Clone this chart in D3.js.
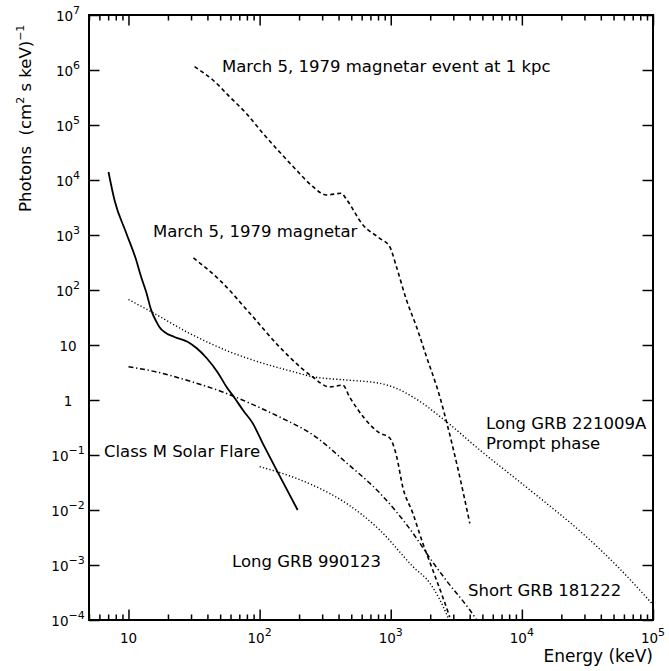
<!DOCTYPE html>
<html>
<head>
<meta charset="utf-8">
<script src="https://cdn.jsdelivr.net/npm/d3@7"></script>
<style>
  body { margin: 0; background: #fff; }
  text { font-family: "DejaVu Sans", sans-serif; fill: #000; }
</style>
</head>
<body>
<svg id="chart" width="669" height="671"></svg>
<script>
// spectra: [energy keV, photons (cm^2 s keV)^-1]
const solarFlareM = [[7.04,13980],[7.82,4330],[9.61,1090],[11.45,351],[12.5,172],[13.65,92],[14.9,43],[16.4,26],
  [17.2,21.3],[18.8,17.2],[22.4,14],[28.2,11.5],[33,8.8],[39.4,5.8],[47.8,3.2],[56,1.72],[64.5,1.09],
  [75.5,0.63],[88.5,0.38],[105.4,0.165],[134.8,0.053],[195,0.01]];
const grb221009A = [[10,67.2],[14.9,40.3],[29.2,16.3],[59,7.55],[106,4.65],[169,3.41],[255,2.65],[459,2.31],
  [824,2.01],[1105,1.63],[1480,1.13],[2662,0.403],[4780,0.123],[8583,0.0404],[15430,0.0132],[27700,0.00415],
  [55980,8.45e-4],[1e5,1.9e-4]];
const grb181222 = [[10,4.03],[16.4,3.23],[29.2,2.21],[52.2,1.40],[105.4,0.686],[142,0.491],[263,0.221],
  [461,0.0716],[824,0.0204],[1473,0.00382],[1986,0.00134],[2676,5.1e-4],[4009,1.52e-4],[4530,1e-4]];
const grb990123 = [[100,0.0613],[142,0.048],[263,0.0273],[459,0.0132],[824,0.00433],[1480,9.3e-4],
  [1986,4.7e-4],[2722,1.13e-4],[2780,1e-4]];
const magnetar1979 = [[31.3,382],[49.5,152],[83.9,38.2],[142,9.2],[169,6.05],[254,2.62],[342,1.72],[430,1.87],
  [486,1.13],[824,0.251],[983,0.204],[1111,0.092],[1235,0.0262],[1472,0.0088],[1755,0.0025],[2092,8.1e-4],
  [2494,2.6e-4],[2820,1.13e-4]];
const magnetar1kpc = [[31.9,1.148e6],[44,6.58e5],[59,3.27e5],[79.1,1.63e5],[106,7.06e4],[142,3.23e4],
  [190.6,1.52e4],[255,7550],[323,5335],[420,5730],[459,4460],[614,1520],[824,871],[983,612],[1105,265],
  [1318,65.8],[1571,21.5],[1873,6.12],[2366,1.15],[2662,0.403],[3260,0.055],[4009,0.00573]];

const xTicks = [10, 1e2, 1e3, 1e4, 1e5];
const xTickLabels = [["10",""],["10","2"],["10","3"],["10","4"],["10","5"]];
const yTicks = [1e-4, 1e-3, 1e-2, 1e-1, 1, 10, 1e2, 1e3, 1e4, 1e5, 1e6, 1e7];
const yTickLabels = [["10","\u22124"],["10","\u22123"],["10","\u22122"],["10","\u22121"],["1",""],["10",""],
  ["10","2"],["10","3"],["10","4"],["10","5"],["10","6"],["10","7"]];

const width = 669, height = 671;
const margin = { top: 15, right: 16, bottom: 51, left: 89 };

const svg = d3.select("#chart");

const x = d3.scaleLog().domain([5, 1e5]).range([margin.left, width - margin.right]);
const y = d3.scaleLog().domain([1e-4, 1e7]).range([height - margin.bottom, margin.top]);

const isMajor = v => Math.abs(Math.log10(v) - Math.round(Math.log10(v))) < 1e-9;

svg.append("defs").append("clipPath").attr("id", "plot-clip")
  .append("rect")
  .attr("x", margin.left).attr("y", margin.top)
  .attr("width", width - margin.left - margin.right)
  .attr("height", height - margin.top - margin.bottom);

// ticks on all four sides, pointing in
const xMinor = x.ticks().filter(v => !isMajor(v));
const yMinor = y.ticks().filter(v => !isMajor(v));

const axisG = svg.append("g").attr("class", "axes");

const addAxis = (axisFn, scale, values, size, transform) => {
  axisG.append("g")
    .attr("transform", transform)
    .call(axisFn(scale).tickValues(values).tickSize(size).tickFormat(""))
    .call(g => g.select(".domain").remove())
    .call(g => g.selectAll(".tick line").attr("stroke", "#000").attr("stroke-width", 1.5));
};

const bottomY = height - margin.bottom, rightX = width - margin.right;
addAxis(d3.axisBottom, x, xTicks, -10.5, `translate(0,${bottomY})`);
addAxis(d3.axisBottom, x, xMinor, -5.5, `translate(0,${bottomY})`);
addAxis(d3.axisTop, x, xTicks, -10.5, `translate(0,${margin.top})`);
addAxis(d3.axisTop, x, xMinor, -5.5, `translate(0,${margin.top})`);
addAxis(d3.axisLeft, y, yTicks, -10.5, `translate(${margin.left},0)`);
addAxis(d3.axisLeft, y, yMinor, -5.5, `translate(${margin.left},0)`);
addAxis(d3.axisRight, y, yTicks, -10.5, `translate(${rightX},0)`);
addAxis(d3.axisRight, y, yMinor, -5.5, `translate(${rightX},0)`);

svg.append("rect")
  .attr("x", margin.left).attr("y", margin.top)
  .attr("width", rightX - margin.left).attr("height", bottomY - margin.top)
  .attr("fill", "none").attr("stroke", "#000").attr("stroke-width", 2);

// tick labels
const labelG = svg.append("g").attr("font-size", 13.5);

xTicks.forEach((v, i) => {
  const t = labelG.append("text")
    .attr("x", x(v)).attr("y", bottomY + 23)
    .attr("text-anchor", "middle");
  t.append("tspan").text(xTickLabels[i][0]);
  if (xTickLabels[i][1]) t.append("tspan").attr("dy", -7).attr("font-size", 11).text(xTickLabels[i][1]);
});

yTicks.forEach((v, i) => {
  const t = labelG.append("text")
    .attr("x", 68).attr("y", y(v) + 6)
    .attr("text-anchor", "middle");
  t.append("tspan").text(yTickLabels[i][0]);
  if (yTickLabels[i][1]) t.append("tspan").attr("dy", -7).attr("font-size", 11).text(yTickLabels[i][1]);
});

// axis titles
svg.append("text")
  .attr("x", rightX).attr("y", 662)
  .attr("text-anchor", "end")
  .attr("font-size", 17)
  .text("Energy (keV)");

const yTitle = svg.append("text")
  .attr("transform", "translate(31,212) rotate(-90)")
  .attr("font-size", 16.5);
yTitle.append("tspan").text("Photons\u00a0\u00a0(cm");
yTitle.append("tspan").attr("dy", -7).attr("font-size", 11).text("2");
yTitle.append("tspan").attr("dy", 7).text(" s keV)");
yTitle.append("tspan").attr("dy", -7).attr("font-size", 11).text("\u22121");

// curves
const line = d3.line()
  .x(d => x(d[0]))
  .y(d => y(d[1]))
  .curve(d3.curveMonotoneX);

const series = [
  { data: solarFlareM, dash: null, w: 1.8 },
  { data: grb221009A, dash: "1.2,2.2", w: 1.4 },
  { data: grb990123, dash: "1.2,2.2", w: 1.4 },
  { data: grb181222, dash: "5,2.7,1.3,2.7", w: 1.5 },
  { data: magnetar1979, dash: "4,3", w: 1.6 },
  { data: magnetar1kpc, dash: "4,3", w: 1.6 }
];

svg.append("g")
  .attr("clip-path", "url(#plot-clip)")
  .selectAll("path")
  .data(series)
  .enter()
  .append("path")
  .attr("d", d => line(d.data))
  .attr("fill", "none")
  .attr("stroke", "#000")
  .attr("stroke-width", d => d.w)
  .attr("stroke-dasharray", d => d.dash);

// curve labels
const notes = [
  { text: "March 5, 1979 magnetar event at 1 kpc", x: 222, y: 72 },
  { text: "March 5, 1979 magnetar", x: 153, y: 237 },
  { text: "Class M Solar Flare", x: 104, y: 457 },
  { text: "Long GRB 990123", x: 232, y: 567 },
  { text: "Short GRB 181222", x: 468, y: 596 },
  { text: "Long GRB 221009A", x: 486, y: 429 },
  { text: "Prompt phase", x: 486, y: 448.5 }
];

svg.append("g")
  .attr("font-size", 16.5)
  .selectAll("text")
  .data(notes)
  .enter()
  .append("text")
  .attr("x", d => d.x)
  .attr("y", d => d.y)
  .text(d => d.text);
</script>
</body>
</html>
